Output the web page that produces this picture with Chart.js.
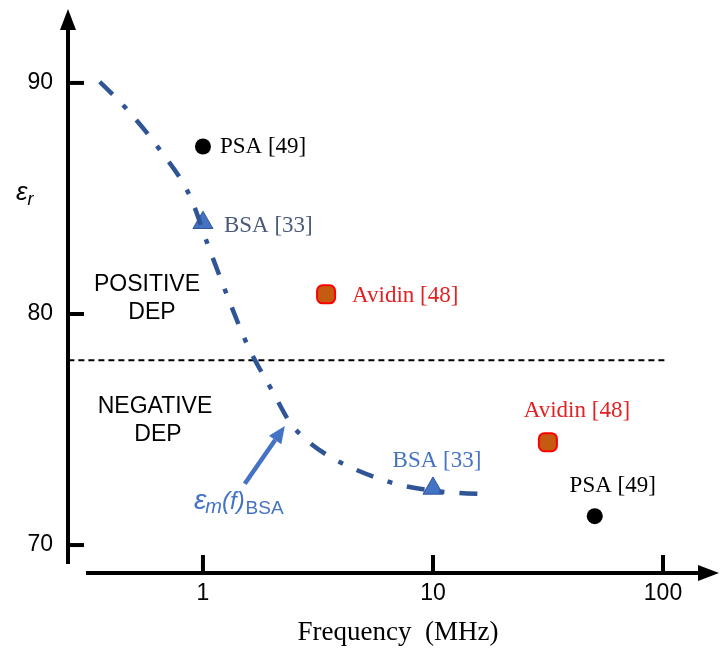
<!DOCTYPE html>
<html>
<head>
<meta charset="utf-8">
<script src="https://cdn.jsdelivr.net/npm/chart.js@4/dist/chart.umd.min.js"></script>
<style>
  body { margin: 0; background: #fff; }
  canvas { display: block; }
</style>
</head>
<body>
<canvas id="depChart" width="720" height="648"></canvas>
<script>
// Medium permittivity curve for BSA (dash-dot)
const curveFreq = [0.356, 0.463, 0.65, 0.878, 1.05, 1.28, 1.57, 2.02, 2.39, 2.78, 3.46, 4.31, 5.54, 7.19, 10, 13.1, 17.3];
const curveEps  = [90.05, 88.9, 87.1, 85.1, 83.0, 80.75, 78.6, 76.6, 75.3, 74.6, 73.9, 73.4, 72.95, 72.6, 72.35, 72.25, 72.2];

// Crossover between positive and negative DEP
const crossFreq = [0.26, 102];
const crossEps = 78;

// Measured proteins
const psaFreq = [1, 50.5];
const psaEps = [87.25, 71.25];
const bsaFreq = [1, 10];
const bsaEps = [83.95, 72.45];
const avidinFreq = [3.43, 31.6];
const avidinEps = [80.85, 74.45];
const psaLabel = 'PSA [49]';
const bsaLabel = 'BSA [33]';
const avidinLabel = 'Avidin [48]';

// Axes
const xTicks = [1, 10, 100];
const yTicks = [70, 80, 90];
const xTitle = 'Frequency  (MHz)';

// arrow pointing at the curve
const arrowFrom = { x: 1.52, y: 72.65 };
const arrowTo = { x: 2.27, y: 75.15 };

const SERIF = '"Liberation Serif", "Times New Roman", serif';
const SANS = '"Liberation Sans", Arial, sans-serif';

function pts(xs, ys) {
  return xs.map((x, i) => ({ x: x, y: Array.isArray(ys) ? ys[i] : ys }));
}

// draws a run of [text, font, dy, extraSpace] pieces one after another
function drawRun(ctx, x, y, pieces) {
  pieces.forEach(p => {
    ctx.font = p[1];
    ctx.fillText(p[0], x, y + p[2]);
    x += ctx.measureText(p[0]).width + (p[3] || 0);
  });
}

const annotationPlugin = {
  id: 'annotations',
  afterDraw(chart) {
    const ctx = chart.ctx;
    const xs = chart.scales.x;
    const ys = chart.scales.y;
    const X = v => xs.getPixelForValue(v);
    const Y = v => ys.getPixelForValue(v);
    const yAxisX = chart.chartArea.left;
    const xAxisY = chart.chartArea.bottom;

    ctx.save();
    ctx.strokeStyle = '#000';
    ctx.fillStyle = '#000';
    ctx.lineWidth = 4;
    ctx.lineCap = 'butt';

    // y axis with arrow
    ctx.beginPath();
    ctx.moveTo(yAxisX, 564);
    ctx.lineTo(yAxisX, 26);
    ctx.stroke();
    ctx.beginPath();
    ctx.moveTo(yAxisX, 9);
    ctx.lineTo(yAxisX - 8, 30);
    ctx.lineTo(yAxisX + 8, 30);
    ctx.closePath();
    ctx.fill();

    // x axis with arrow
    ctx.beginPath();
    ctx.moveTo(86, xAxisY);
    ctx.lineTo(702, xAxisY);
    ctx.stroke();
    ctx.beginPath();
    ctx.moveTo(719, xAxisY);
    ctx.lineTo(698, xAxisY - 8);
    ctx.lineTo(698, xAxisY + 8);
    ctx.closePath();
    ctx.fill();

    // ticks and tick labels
    ctx.font = '23px ' + SANS;
    ctx.textBaseline = 'middle';
    ctx.textAlign = 'right';
    yTicks.forEach(t => {
      const py = Y(t);
      ctx.beginPath();
      ctx.moveTo(yAxisX, py);
      ctx.lineTo(yAxisX + 16, py);
      ctx.stroke();
      ctx.fillText(String(t), 53, py);
    });
    ctx.textAlign = 'center';
    xTicks.forEach(t => {
      const px = X(t);
      ctx.beginPath();
      ctx.moveTo(px, xAxisY);
      ctx.lineTo(px, xAxisY - 18);
      ctx.stroke();
      ctx.fillText(String(t), px, 594);
    });

    // axis titles
    ctx.font = '27px ' + SERIF;
    ctx.fillText(xTitle, 398, 633);
    ctx.textAlign = 'left';
    ctx.textBaseline = 'alphabetic';
    drawRun(ctx, 16, 200, [['ε', 'italic 26px ' + SANS, 0], ['r', 'italic 18px ' + SANS, 5]]);
    ctx.textBaseline = 'middle';

    // region labels
    ctx.textAlign = 'center';
    ctx.font = '23px ' + SANS;
    ctx.fillText('POSITIVE', 147, 285);
    ctx.fillText('DEP', 152, 313);
    ctx.fillText('NEGATIVE', 155, 407);
    ctx.fillText('DEP', 158, 435);

    // point labels
    ctx.font = '23px ' + SERIF;
    ctx.textAlign = 'left';
    ctx.fillStyle = '#000';
    ctx.fillText(psaLabel, X(psaFreq[0]) + 17, Y(psaEps[0]));
    ctx.fillStyle = '#4A5A78';
    ctx.fillText(bsaLabel, X(bsaFreq[0]) + 21, Y(bsaEps[0]) + 3);
    ctx.fillStyle = '#E02222';
    ctx.fillText(avidinLabel, X(avidinFreq[0]) + 26, Y(avidinEps[0]) + 2);
    ctx.textAlign = 'center';
    ctx.fillText(avidinLabel, X(avidinFreq[1]) + 29, Y(avidinEps[1]) - 31);
    ctx.fillStyle = '#4472C4';
    ctx.fillText(bsaLabel, X(bsaFreq[1]) + 4, Y(bsaEps[1]) - 27);
    ctx.fillStyle = '#000';
    ctx.fillText(psaLabel, X(psaFreq[1]) + 18, Y(psaEps[1]) - 30);

    // arrow to the curve
    const ax0 = X(arrowFrom.x), ay0 = Y(arrowFrom.y);
    const ax1 = X(arrowTo.x), ay1 = Y(arrowTo.y);
    const ang = Math.atan2(ay1 - ay0, ax1 - ax0);
    const headLen = 17;
    const bx = ax1 - headLen * Math.cos(ang), by = ay1 - headLen * Math.sin(ang);
    ctx.strokeStyle = '#4472C4';
    ctx.fillStyle = '#4472C4';
    ctx.lineWidth = 4.5;
    ctx.beginPath();
    ctx.moveTo(ax0, ay0);
    ctx.lineTo(bx, by);
    ctx.stroke();
    ctx.beginPath();
    ctx.moveTo(ax1, ay1);
    ctx.lineTo(bx + 7.5 * Math.sin(ang), by - 7.5 * Math.cos(ang));
    ctx.lineTo(bx - 7.5 * Math.sin(ang), by + 7.5 * Math.cos(ang));
    ctx.closePath();
    ctx.fill();

    // curve label eps_m(f)_BSA
    ctx.textAlign = 'left';
    ctx.textBaseline = 'alphabetic';
    drawRun(ctx, 194, 509, [
      ['ε', 'italic 28px ' + SANS, 0, -1],
      ['m', 'italic 20px ' + SANS, 4],
      ['(f)', 'italic 24px ' + SANS, 0, 1],
      ['BSA', '19px ' + SANS, 5]
    ]);
    ctx.restore();
  }
};

new Chart(document.getElementById('depChart'), {
  type: 'scatter',
  data: {
    datasets: [
      {
        type: 'line',
        data: pts(curveFreq, curveEps),
        borderColor: '#2F5597',
        borderWidth: 4.5,
        borderDash: [18, 15, 5, 15],
        pointRadius: 0,
        cubicInterpolationMode: 'monotone',
        fill: false
      },
      {
        type: 'line',
        data: pts(crossFreq, crossEps),
        borderColor: '#000',
        borderWidth: 2,
        borderDash: [6, 4],
        pointRadius: 0,
        fill: false
      },
      {
        data: pts(psaFreq, psaEps),
        pointStyle: 'circle',
        pointRadius: 8,
        backgroundColor: '#000',
        borderColor: '#000',
        borderWidth: 0
      },
      {
        data: pts(bsaFreq, bsaEps),
        pointStyle: 'triangle',
        pointRadius: 11.5,
        backgroundColor: '#4472C4',
        borderColor: '#2F5597',
        borderWidth: 1
      },
      {
        data: pts(avidinFreq, avidinEps),
        pointStyle: 'rectRounded',
        pointRadius: 10.5,
        backgroundColor: '#C55A11',
        borderColor: '#FF0000',
        borderWidth: 2
      }
    ]
  },
  options: {
    responsive: false,
    animation: false,
    layout: { autoPadding: false, padding: { left: 68, right: 5, top: 12, bottom: 75 } },
    plugins: {
      legend: { display: false },
      tooltip: { enabled: false }
    },
    scales: {
      x: { type: 'logarithmic', min: 0.259, max: 168.3, display: false },
      y: { type: 'linear', min: 68.79, max: 93.07, display: false }
    }
  },
  plugins: [annotationPlugin]
});
</script>
</body>
</html>
